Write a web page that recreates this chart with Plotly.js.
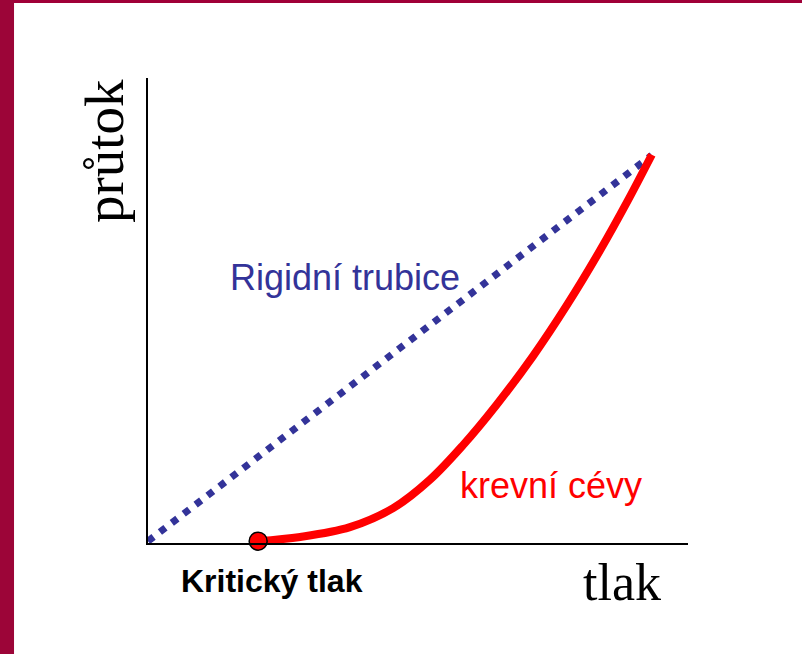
<!DOCTYPE html>
<html>
<head>
<meta charset="utf-8">
<script src="https://cdn.plot.ly/plotly-3.0.1.min.js"></script>
<style>html,body{margin:0;padding:0;background:#fff;}#chart{width:802px;height:654px;}</style>
</head>
<body>
<div id="chart"></div>
<script>
// Data (arbitrary units: pressure 0-10, flow 0-10)
const rigidX = [0, 9.33];
const rigidY = [0.04, 8.34];
const vesselX = [2.04, 2.82, 3.74, 4.54, 5.22, 5.83, 6.46, 7.13, 7.76, 8.37, 8.87, 9.33];
const vesselY = [0.04, 0.13, 0.34, 0.75, 1.36, 2.10, 2.98, 4.02, 5.12, 6.29, 7.33, 8.35];
const criticalX = [2.04];
const criticalY = [0.04];
const labels = {
  rigid: 'Rigidní trubice',
  vessel: 'krevní cévy',
  critical: 'Kritický tlak',
  xTitle: 'tlak',
  yTitle: 'průtok'
};

const traces = [
  {x: rigidX, y: rigidY, mode: 'lines', type: 'scatter',
   line: {color: '#333399', width: 7, dash: '7px,8px'}, hoverinfo: 'skip'},
  {x: vesselX, y: vesselY, mode: 'lines', type: 'scatter',
   line: {color: '#FF0000', width: 8, shape: 'spline', smoothing: 1, simplify: false}, hoverinfo: 'skip'},
  {x: criticalX, y: criticalY, mode: 'markers', type: 'scatter', cliponaxis: false,
   marker: {color: '#FF0000', size: 18, line: {color: '#000000', width: 1.5}}, hoverinfo: 'skip'}
];

const layout = {
  width: 802, height: 654,
  margin: {l: 148, r: 114, t: 78, b: 111},
  paper_bgcolor: '#ffffff', plot_bgcolor: '#ffffff',
  showlegend: false,
  xaxis: {range: [0, 10], showline: true, linecolor: '#000', linewidth: 2,
          showgrid: false, zeroline: false, showticklabels: false, ticks: ''},
  yaxis: {range: [0, 10], showline: true, linecolor: '#000', linewidth: 2,
          showgrid: false, zeroline: false, showticklabels: false, ticks: ''},
  annotations: [
    {text: labels.rigid, xref: 'x', yref: 'y', x: 3.65, y: 5.70, showarrow: false,
     xanchor: 'center', yanchor: 'middle',
     font: {family: 'Liberation Sans, Arial, sans-serif', size: 36, color: '#333399'}},
    {text: labels.vessel, xref: 'x', yref: 'y', x: 7.47, y: 1.23, showarrow: false,
     xanchor: 'center', yanchor: 'middle',
     font: {family: 'Liberation Sans, Arial, sans-serif', size: 36, color: '#FF0000'}},
    {text: '<b>' + labels.critical + '</b>', xref: 'paper', yref: 'paper', x: 0.2296, y: -0.0817,
     showarrow: false, xanchor: 'center', yanchor: 'middle',
     font: {family: 'Liberation Sans, Arial, sans-serif', size: 32, color: '#000000'}},
    {text: labels.xTitle, xref: 'paper', yref: 'paper', x: 0.877, y: -0.0839,
     showarrow: false, xanchor: 'center', yanchor: 'middle',
     font: {family: 'Liberation Serif, Times New Roman, serif', size: 52, color: '#000000'}},
    {text: labels.yTitle, xref: 'paper', yref: 'paper', x: -0.0815, y: 0.843, textangle: -90,
     showarrow: false, xanchor: 'center', yanchor: 'middle',
     font: {family: 'Liberation Serif, Times New Roman, serif', size: 55, color: '#000000'}}
  ],
  shapes: [
    {type: 'rect', xref: 'paper', yref: 'paper', x0: -0.2741, x1: 1.2111, y0: 1.1613, y1: 1.1678,
     fillcolor: '#A00038', line: {width: 0}, layer: 'above'},
    {type: 'rect', xref: 'paper', yref: 'paper', x0: -0.2741, x1: -0.2481, y0: -0.2387, y1: 1.1678,
     fillcolor: '#9C0538', line: {width: 0}, layer: 'above'}
  ]
};

Plotly.newPlot('chart', traces, layout, {staticPlot: true, displayModeBar: false});
</script>
</body>
</html>
